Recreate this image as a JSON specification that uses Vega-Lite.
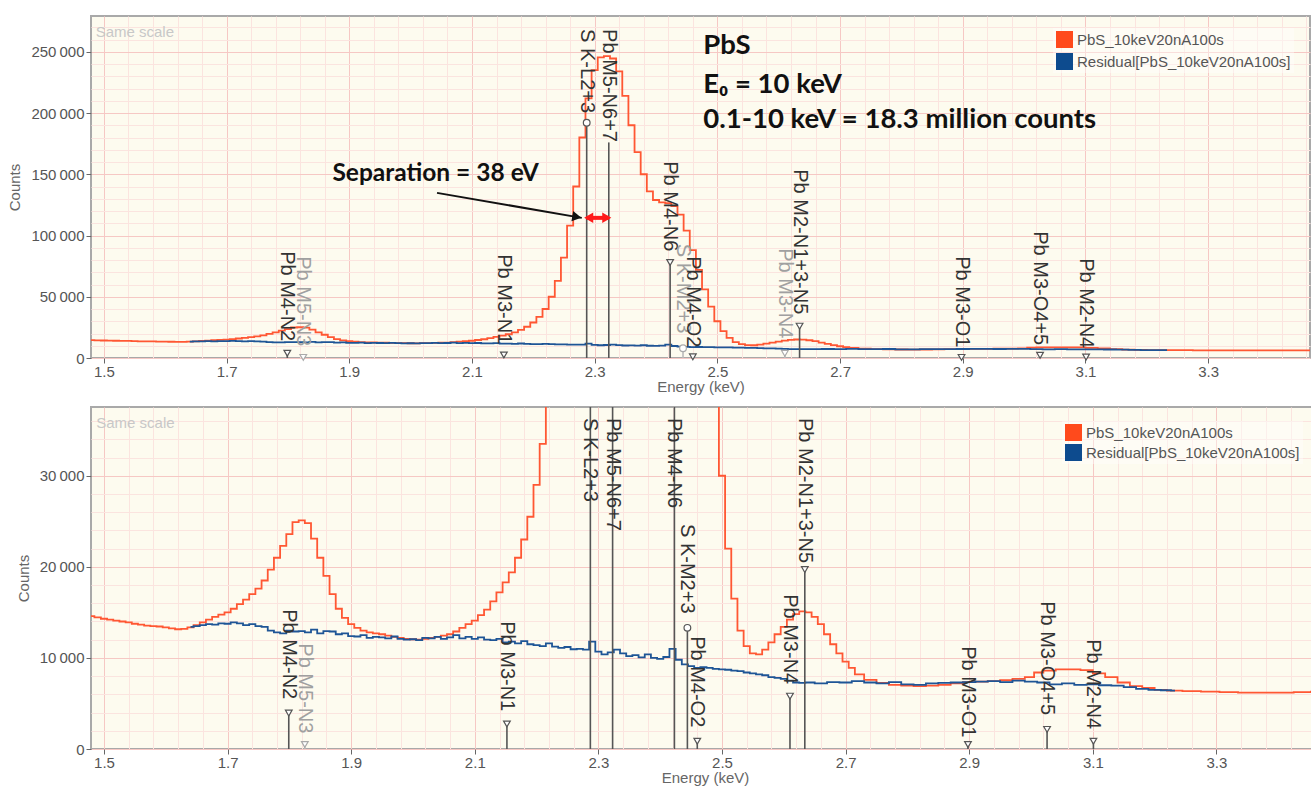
{
  "$schema": "https://vega.github.io/schema/vega-lite/v6.json",
  "background": "white",
  "padding": {"left": 6, "top": 15, "right": 0, "bottom": 0},
  "spacing": 11,
  "resolve": {"scale": {"color": "independent", "shape": "independent"}, "legend": {"color": "independent"}},
  "config": {
    "font": "Liberation Sans",
    "view": {"fill": "#fdfbef", "stroke": "#a9a9a9", "strokeWidth": 2},
    "axis": {"labelFont": "Liberation Sans", "titleFont": "Liberation Sans", "labelFontSize": 15, "titleFontSize": 15, "labelColor": "#555555", "titleColor": "#666666", "titleFontWeight": "normal", "domain": false, "tickColor": "#666666", "tickSize": 5, "labelFlush": false, "labelOverlap": false, "gridWidth": 1, "tickCount": 500}
  },
  "datasets": {
    "spectra": [
      {"series": "PbS_10keV20nA100s", "energy": 1.479, "counts": 14600},
      {"series": "PbS_10keV20nA100s", "energy": 1.49, "counts": 14450},
      {"series": "PbS_10keV20nA100s", "energy": 1.50, "counts": 14300},
      {"series": "PbS_10keV20nA100s", "energy": 1.51, "counts": 14200},
      {"series": "PbS_10keV20nA100s", "energy": 1.52, "counts": 14100},
      {"series": "PbS_10keV20nA100s", "energy": 1.53, "counts": 14000},
      {"series": "PbS_10keV20nA100s", "energy": 1.54, "counts": 13900},
      {"series": "PbS_10keV20nA100s", "energy": 1.55, "counts": 13750},
      {"series": "PbS_10keV20nA100s", "energy": 1.56, "counts": 13650},
      {"series": "PbS_10keV20nA100s", "energy": 1.57, "counts": 13550},
      {"series": "PbS_10keV20nA100s", "energy": 1.58, "counts": 13500},
      {"series": "PbS_10keV20nA100s", "energy": 1.59, "counts": 13450},
      {"series": "PbS_10keV20nA100s", "energy": 1.60, "counts": 13350},
      {"series": "PbS_10keV20nA100s", "energy": 1.61, "counts": 13250},
      {"series": "PbS_10keV20nA100s", "energy": 1.62, "counts": 13150},
      {"series": "PbS_10keV20nA100s", "energy": 1.63, "counts": 13200},
      {"series": "PbS_10keV20nA100s", "energy": 1.64, "counts": 13350},
      {"series": "PbS_10keV20nA100s", "energy": 1.65, "counts": 13600},
      {"series": "PbS_10keV20nA100s", "energy": 1.66, "counts": 13900},
      {"series": "PbS_10keV20nA100s", "energy": 1.67, "counts": 14200},
      {"series": "PbS_10keV20nA100s", "energy": 1.68, "counts": 14500},
      {"series": "PbS_10keV20nA100s", "energy": 1.69, "counts": 14750},
      {"series": "PbS_10keV20nA100s", "energy": 1.70, "counts": 15000},
      {"series": "PbS_10keV20nA100s", "energy": 1.71, "counts": 15400},
      {"series": "PbS_10keV20nA100s", "energy": 1.72, "counts": 15900},
      {"series": "PbS_10keV20nA100s", "energy": 1.73, "counts": 16400},
      {"series": "PbS_10keV20nA100s", "energy": 1.74, "counts": 17000},
      {"series": "PbS_10keV20nA100s", "energy": 1.75, "counts": 17600},
      {"series": "PbS_10keV20nA100s", "energy": 1.76, "counts": 18500},
      {"series": "PbS_10keV20nA100s", "energy": 1.77, "counts": 19700},
      {"series": "PbS_10keV20nA100s", "energy": 1.78, "counts": 21000},
      {"series": "PbS_10keV20nA100s", "energy": 1.79, "counts": 22300},
      {"series": "PbS_10keV20nA100s", "energy": 1.80, "counts": 23600},
      {"series": "PbS_10keV20nA100s", "energy": 1.81, "counts": 24900},
      {"series": "PbS_10keV20nA100s", "energy": 1.82, "counts": 25100},
      {"series": "PbS_10keV20nA100s", "energy": 1.83, "counts": 24800},
      {"series": "PbS_10keV20nA100s", "energy": 1.84, "counts": 23100},
      {"series": "PbS_10keV20nA100s", "energy": 1.85, "counts": 21000},
      {"series": "PbS_10keV20nA100s", "energy": 1.86, "counts": 19000},
      {"series": "PbS_10keV20nA100s", "energy": 1.87, "counts": 17000},
      {"series": "PbS_10keV20nA100s", "energy": 1.88, "counts": 15400},
      {"series": "PbS_10keV20nA100s", "energy": 1.89, "counts": 14400},
      {"series": "PbS_10keV20nA100s", "energy": 1.90, "counts": 13700},
      {"series": "PbS_10keV20nA100s", "energy": 1.91, "counts": 13300},
      {"series": "PbS_10keV20nA100s", "energy": 1.92, "counts": 13000},
      {"series": "PbS_10keV20nA100s", "energy": 1.93, "counts": 12800},
      {"series": "PbS_10keV20nA100s", "energy": 1.94, "counts": 12700},
      {"series": "PbS_10keV20nA100s", "energy": 1.95, "counts": 12600},
      {"series": "PbS_10keV20nA100s", "energy": 1.96, "counts": 12450},
      {"series": "PbS_10keV20nA100s", "energy": 1.97, "counts": 12300},
      {"series": "PbS_10keV20nA100s", "energy": 1.98, "counts": 12200},
      {"series": "PbS_10keV20nA100s", "energy": 1.99, "counts": 12100},
      {"series": "PbS_10keV20nA100s", "energy": 2.00, "counts": 12050},
      {"series": "PbS_10keV20nA100s", "energy": 2.01, "counts": 12000},
      {"series": "PbS_10keV20nA100s", "energy": 2.02, "counts": 12100},
      {"series": "PbS_10keV20nA100s", "energy": 2.03, "counts": 12200},
      {"series": "PbS_10keV20nA100s", "energy": 2.04, "counts": 12300},
      {"series": "PbS_10keV20nA100s", "energy": 2.05, "counts": 12450},
      {"series": "PbS_10keV20nA100s", "energy": 2.06, "counts": 12600},
      {"series": "PbS_10keV20nA100s", "energy": 2.07, "counts": 12900},
      {"series": "PbS_10keV20nA100s", "energy": 2.08, "counts": 13300},
      {"series": "PbS_10keV20nA100s", "energy": 2.09, "counts": 13700},
      {"series": "PbS_10keV20nA100s", "energy": 2.10, "counts": 14100},
      {"series": "PbS_10keV20nA100s", "energy": 2.11, "counts": 14700},
      {"series": "PbS_10keV20nA100s", "energy": 2.12, "counts": 15300},
      {"series": "PbS_10keV20nA100s", "energy": 2.13, "counts": 16200},
      {"series": "PbS_10keV20nA100s", "energy": 2.14, "counts": 17200},
      {"series": "PbS_10keV20nA100s", "energy": 2.15, "counts": 18300},
      {"series": "PbS_10keV20nA100s", "energy": 2.16, "counts": 19400},
      {"series": "PbS_10keV20nA100s", "energy": 2.17, "counts": 21000},
      {"series": "PbS_10keV20nA100s", "energy": 2.18, "counts": 23000},
      {"series": "PbS_10keV20nA100s", "energy": 2.19, "counts": 25500},
      {"series": "PbS_10keV20nA100s", "energy": 2.20, "counts": 29000},
      {"series": "PbS_10keV20nA100s", "energy": 2.21, "counts": 33500},
      {"series": "PbS_10keV20nA100s", "energy": 2.22, "counts": 40000},
      {"series": "PbS_10keV20nA100s", "energy": 2.23, "counts": 50000},
      {"series": "PbS_10keV20nA100s", "energy": 2.24, "counts": 63000},
      {"series": "PbS_10keV20nA100s", "energy": 2.25, "counts": 82000},
      {"series": "PbS_10keV20nA100s", "energy": 2.26, "counts": 108000},
      {"series": "PbS_10keV20nA100s", "energy": 2.27, "counts": 140000},
      {"series": "PbS_10keV20nA100s", "energy": 2.28, "counts": 180000},
      {"series": "PbS_10keV20nA100s", "energy": 2.29, "counts": 212000},
      {"series": "PbS_10keV20nA100s", "energy": 2.30, "counts": 235000},
      {"series": "PbS_10keV20nA100s", "energy": 2.31, "counts": 245500},
      {"series": "PbS_10keV20nA100s", "energy": 2.32, "counts": 246500},
      {"series": "PbS_10keV20nA100s", "energy": 2.33, "counts": 244500},
      {"series": "PbS_10keV20nA100s", "energy": 2.34, "counts": 234000},
      {"series": "PbS_10keV20nA100s", "energy": 2.35, "counts": 214000},
      {"series": "PbS_10keV20nA100s", "energy": 2.36, "counts": 190000},
      {"series": "PbS_10keV20nA100s", "energy": 2.37, "counts": 168000},
      {"series": "PbS_10keV20nA100s", "energy": 2.38, "counts": 150000},
      {"series": "PbS_10keV20nA100s", "energy": 2.39, "counts": 136000},
      {"series": "PbS_10keV20nA100s", "energy": 2.40, "counts": 129000},
      {"series": "PbS_10keV20nA100s", "energy": 2.41, "counts": 127000},
      {"series": "PbS_10keV20nA100s", "energy": 2.42, "counts": 126500},
      {"series": "PbS_10keV20nA100s", "energy": 2.43, "counts": 124000},
      {"series": "PbS_10keV20nA100s", "energy": 2.44, "counts": 117000},
      {"series": "PbS_10keV20nA100s", "energy": 2.45, "counts": 104000},
      {"series": "PbS_10keV20nA100s", "energy": 2.46, "counts": 88000},
      {"series": "PbS_10keV20nA100s", "energy": 2.47, "counts": 72000},
      {"series": "PbS_10keV20nA100s", "energy": 2.48, "counts": 56000},
      {"series": "PbS_10keV20nA100s", "energy": 2.49, "counts": 42000},
      {"series": "PbS_10keV20nA100s", "energy": 2.50, "counts": 30000},
      {"series": "PbS_10keV20nA100s", "energy": 2.51, "counts": 22000},
      {"series": "PbS_10keV20nA100s", "energy": 2.52, "counts": 16500},
      {"series": "PbS_10keV20nA100s", "energy": 2.53, "counts": 13000},
      {"series": "PbS_10keV20nA100s", "energy": 2.54, "counts": 11300},
      {"series": "PbS_10keV20nA100s", "energy": 2.55, "counts": 10500},
      {"series": "PbS_10keV20nA100s", "energy": 2.56, "counts": 10400},
      {"series": "PbS_10keV20nA100s", "energy": 2.57, "counts": 10900},
      {"series": "PbS_10keV20nA100s", "energy": 2.58, "counts": 11700},
      {"series": "PbS_10keV20nA100s", "energy": 2.59, "counts": 12600},
      {"series": "PbS_10keV20nA100s", "energy": 2.60, "counts": 13400},
      {"series": "PbS_10keV20nA100s", "energy": 2.61, "counts": 14200},
      {"series": "PbS_10keV20nA100s", "energy": 2.62, "counts": 14800},
      {"series": "PbS_10keV20nA100s", "energy": 2.63, "counts": 15100},
      {"series": "PbS_10keV20nA100s", "energy": 2.64, "counts": 15000},
      {"series": "PbS_10keV20nA100s", "energy": 2.65, "counts": 14500},
      {"series": "PbS_10keV20nA100s", "energy": 2.66, "counts": 13700},
      {"series": "PbS_10keV20nA100s", "energy": 2.67, "counts": 12600},
      {"series": "PbS_10keV20nA100s", "energy": 2.68, "counts": 11500},
      {"series": "PbS_10keV20nA100s", "energy": 2.69, "counts": 10500},
      {"series": "PbS_10keV20nA100s", "energy": 2.70, "counts": 9600},
      {"series": "PbS_10keV20nA100s", "energy": 2.71, "counts": 8900},
      {"series": "PbS_10keV20nA100s", "energy": 2.72, "counts": 8200},
      {"series": "PbS_10keV20nA100s", "energy": 2.74, "counts": 7600},
      {"series": "PbS_10keV20nA100s", "energy": 2.76, "counts": 7250},
      {"series": "PbS_10keV20nA100s", "energy": 2.78, "counts": 7050},
      {"series": "PbS_10keV20nA100s", "energy": 2.80, "counts": 6950},
      {"series": "PbS_10keV20nA100s", "energy": 2.82, "counts": 6900},
      {"series": "PbS_10keV20nA100s", "energy": 2.84, "counts": 6950},
      {"series": "PbS_10keV20nA100s", "energy": 2.86, "counts": 7050},
      {"series": "PbS_10keV20nA100s", "energy": 2.88, "counts": 7200},
      {"series": "PbS_10keV20nA100s", "energy": 2.90, "counts": 7350},
      {"series": "PbS_10keV20nA100s", "energy": 2.92, "counts": 7400},
      {"series": "PbS_10keV20nA100s", "energy": 2.94, "counts": 7450},
      {"series": "PbS_10keV20nA100s", "energy": 2.96, "counts": 7550},
      {"series": "PbS_10keV20nA100s", "energy": 2.98, "counts": 7700},
      {"series": "PbS_10keV20nA100s", "energy": 3.00, "counts": 7900},
      {"series": "PbS_10keV20nA100s", "energy": 3.01, "counts": 8400},
      {"series": "PbS_10keV20nA100s", "energy": 3.03, "counts": 8600},
      {"series": "PbS_10keV20nA100s", "energy": 3.05, "counts": 8750},
      {"series": "PbS_10keV20nA100s", "energy": 3.07, "counts": 8750},
      {"series": "PbS_10keV20nA100s", "energy": 3.09, "counts": 8650},
      {"series": "PbS_10keV20nA100s", "energy": 3.11, "counts": 8300},
      {"series": "PbS_10keV20nA100s", "energy": 3.13, "counts": 7900},
      {"series": "PbS_10keV20nA100s", "energy": 3.15, "counts": 7300},
      {"series": "PbS_10keV20nA100s", "energy": 3.17, "counts": 6900},
      {"series": "PbS_10keV20nA100s", "energy": 3.19, "counts": 6700},
      {"series": "PbS_10keV20nA100s", "energy": 3.21, "counts": 6500},
      {"series": "PbS_10keV20nA100s", "energy": 3.23, "counts": 6400},
      {"series": "PbS_10keV20nA100s", "energy": 3.26, "counts": 6350},
      {"series": "PbS_10keV20nA100s", "energy": 3.29, "counts": 6300},
      {"series": "PbS_10keV20nA100s", "energy": 3.32, "counts": 6250},
      {"series": "PbS_10keV20nA100s", "energy": 3.35, "counts": 6200},
      {"series": "PbS_10keV20nA100s", "energy": 3.38, "counts": 6180},
      {"series": "PbS_10keV20nA100s", "energy": 3.41, "counts": 6200},
      {"series": "PbS_10keV20nA100s", "energy": 3.44, "counts": 6250},
      {"series": "PbS_10keV20nA100s", "energy": 3.466, "counts": 6300},
      {"series": "Residual[PbS_10keV20nA100s]", "energy": 1.64, "counts": 13400},
      {"series": "Residual[PbS_10keV20nA100s]", "energy": 1.65, "counts": 13500},
      {"series": "Residual[PbS_10keV20nA100s]", "energy": 1.66, "counts": 13600},
      {"series": "Residual[PbS_10keV20nA100s]", "energy": 1.67, "counts": 13700},
      {"series": "Residual[PbS_10keV20nA100s]", "energy": 1.68, "counts": 13650},
      {"series": "Residual[PbS_10keV20nA100s]", "energy": 1.69, "counts": 13800},
      {"series": "Residual[PbS_10keV20nA100s]", "energy": 1.70, "counts": 13750},
      {"series": "Residual[PbS_10keV20nA100s]", "energy": 1.71, "counts": 13900},
      {"series": "Residual[PbS_10keV20nA100s]", "energy": 1.72, "counts": 13800},
      {"series": "Residual[PbS_10keV20nA100s]", "energy": 1.73, "counts": 13600},
      {"series": "Residual[PbS_10keV20nA100s]", "energy": 1.74, "counts": 13700},
      {"series": "Residual[PbS_10keV20nA100s]", "energy": 1.75, "counts": 13500},
      {"series": "Residual[PbS_10keV20nA100s]", "energy": 1.76, "counts": 13400},
      {"series": "Residual[PbS_10keV20nA100s]", "energy": 1.77, "counts": 13000},
      {"series": "Residual[PbS_10keV20nA100s]", "energy": 1.78, "counts": 12800},
      {"series": "Residual[PbS_10keV20nA100s]", "energy": 1.79, "counts": 12700},
      {"series": "Residual[PbS_10keV20nA100s]", "energy": 1.80, "counts": 13000},
      {"series": "Residual[PbS_10keV20nA100s]", "energy": 1.81, "counts": 12900},
      {"series": "Residual[PbS_10keV20nA100s]", "energy": 1.82, "counts": 12950},
      {"series": "Residual[PbS_10keV20nA100s]", "energy": 1.83, "counts": 12800},
      {"series": "Residual[PbS_10keV20nA100s]", "energy": 1.84, "counts": 13100},
      {"series": "Residual[PbS_10keV20nA100s]", "energy": 1.85, "counts": 12700},
      {"series": "Residual[PbS_10keV20nA100s]", "energy": 1.86, "counts": 12950},
      {"series": "Residual[PbS_10keV20nA100s]", "energy": 1.87, "counts": 12900},
      {"series": "Residual[PbS_10keV20nA100s]", "energy": 1.88, "counts": 12600},
      {"series": "Residual[PbS_10keV20nA100s]", "energy": 1.89, "counts": 12700},
      {"series": "Residual[PbS_10keV20nA100s]", "energy": 1.90, "counts": 12400},
      {"series": "Residual[PbS_10keV20nA100s]", "energy": 1.91, "counts": 12350},
      {"series": "Residual[PbS_10keV20nA100s]", "energy": 1.92, "counts": 12500},
      {"series": "Residual[PbS_10keV20nA100s]", "energy": 1.93, "counts": 12200},
      {"series": "Residual[PbS_10keV20nA100s]", "energy": 1.94, "counts": 12300},
      {"series": "Residual[PbS_10keV20nA100s]", "energy": 1.95, "counts": 12250},
      {"series": "Residual[PbS_10keV20nA100s]", "energy": 1.96, "counts": 12150},
      {"series": "Residual[PbS_10keV20nA100s]", "energy": 1.97, "counts": 12350},
      {"series": "Residual[PbS_10keV20nA100s]", "energy": 1.98, "counts": 12100},
      {"series": "Residual[PbS_10keV20nA100s]", "energy": 1.99, "counts": 12000},
      {"series": "Residual[PbS_10keV20nA100s]", "energy": 2.00, "counts": 12050},
      {"series": "Residual[PbS_10keV20nA100s]", "energy": 2.01, "counts": 11950},
      {"series": "Residual[PbS_10keV20nA100s]", "energy": 2.02, "counts": 12200},
      {"series": "Residual[PbS_10keV20nA100s]", "energy": 2.03, "counts": 12150},
      {"series": "Residual[PbS_10keV20nA100s]", "energy": 2.04, "counts": 12300},
      {"series": "Residual[PbS_10keV20nA100s]", "energy": 2.05, "counts": 12100},
      {"series": "Residual[PbS_10keV20nA100s]", "energy": 2.06, "counts": 12250},
      {"series": "Residual[PbS_10keV20nA100s]", "energy": 2.07, "counts": 12500},
      {"series": "Residual[PbS_10keV20nA100s]", "energy": 2.08, "counts": 12150},
      {"series": "Residual[PbS_10keV20nA100s]", "energy": 2.09, "counts": 12300},
      {"series": "Residual[PbS_10keV20nA100s]", "energy": 2.10, "counts": 12100},
      {"series": "Residual[PbS_10keV20nA100s]", "energy": 2.11, "counts": 12250},
      {"series": "Residual[PbS_10keV20nA100s]", "energy": 2.12, "counts": 12000},
      {"series": "Residual[PbS_10keV20nA100s]", "energy": 2.13, "counts": 11950},
      {"series": "Residual[PbS_10keV20nA100s]", "energy": 2.14, "counts": 12100},
      {"series": "Residual[PbS_10keV20nA100s]", "energy": 2.15, "counts": 11700},
      {"series": "Residual[PbS_10keV20nA100s]", "energy": 2.16, "counts": 11800},
      {"series": "Residual[PbS_10keV20nA100s]", "energy": 2.17, "counts": 11600},
      {"series": "Residual[PbS_10keV20nA100s]", "energy": 2.18, "counts": 11850},
      {"series": "Residual[PbS_10keV20nA100s]", "energy": 2.19, "counts": 11500},
      {"series": "Residual[PbS_10keV20nA100s]", "energy": 2.20, "counts": 11400},
      {"series": "Residual[PbS_10keV20nA100s]", "energy": 2.21, "counts": 11300},
      {"series": "Residual[PbS_10keV20nA100s]", "energy": 2.22, "counts": 11600},
      {"series": "Residual[PbS_10keV20nA100s]", "energy": 2.23, "counts": 11250},
      {"series": "Residual[PbS_10keV20nA100s]", "energy": 2.24, "counts": 11100},
      {"series": "Residual[PbS_10keV20nA100s]", "energy": 2.25, "counts": 11200},
      {"series": "Residual[PbS_10keV20nA100s]", "energy": 2.26, "counts": 10950},
      {"series": "Residual[PbS_10keV20nA100s]", "energy": 2.27, "counts": 11000},
      {"series": "Residual[PbS_10keV20nA100s]", "energy": 2.28, "counts": 10900},
      {"series": "Residual[PbS_10keV20nA100s]", "energy": 2.29, "counts": 11800},
      {"series": "Residual[PbS_10keV20nA100s]", "energy": 2.30, "counts": 10700},
      {"series": "Residual[PbS_10keV20nA100s]", "energy": 2.31, "counts": 10400},
      {"series": "Residual[PbS_10keV20nA100s]", "energy": 2.32, "counts": 10600},
      {"series": "Residual[PbS_10keV20nA100s]", "energy": 2.33, "counts": 10900},
      {"series": "Residual[PbS_10keV20nA100s]", "energy": 2.34, "counts": 10500},
      {"series": "Residual[PbS_10keV20nA100s]", "energy": 2.35, "counts": 10200},
      {"series": "Residual[PbS_10keV20nA100s]", "energy": 2.36, "counts": 10300},
      {"series": "Residual[PbS_10keV20nA100s]", "energy": 2.37, "counts": 10050},
      {"series": "Residual[PbS_10keV20nA100s]", "energy": 2.38, "counts": 10400},
      {"series": "Residual[PbS_10keV20nA100s]", "energy": 2.39, "counts": 10000},
      {"series": "Residual[PbS_10keV20nA100s]", "energy": 2.40, "counts": 9900},
      {"series": "Residual[PbS_10keV20nA100s]", "energy": 2.41, "counts": 10100},
      {"series": "Residual[PbS_10keV20nA100s]", "energy": 2.42, "counts": 11000},
      {"series": "Residual[PbS_10keV20nA100s]", "energy": 2.43, "counts": 9800},
      {"series": "Residual[PbS_10keV20nA100s]", "energy": 2.44, "counts": 9300},
      {"series": "Residual[PbS_10keV20nA100s]", "energy": 2.45, "counts": 9100},
      {"series": "Residual[PbS_10keV20nA100s]", "energy": 2.46, "counts": 8900},
      {"series": "Residual[PbS_10keV20nA100s]", "energy": 2.47, "counts": 9000},
      {"series": "Residual[PbS_10keV20nA100s]", "energy": 2.48, "counts": 8900},
      {"series": "Residual[PbS_10keV20nA100s]", "energy": 2.49, "counts": 8800},
      {"series": "Residual[PbS_10keV20nA100s]", "energy": 2.50, "counts": 8750},
      {"series": "Residual[PbS_10keV20nA100s]", "energy": 2.51, "counts": 8700},
      {"series": "Residual[PbS_10keV20nA100s]", "energy": 2.52, "counts": 8600},
      {"series": "Residual[PbS_10keV20nA100s]", "energy": 2.53, "counts": 8550},
      {"series": "Residual[PbS_10keV20nA100s]", "energy": 2.54, "counts": 8400},
      {"series": "Residual[PbS_10keV20nA100s]", "energy": 2.55, "counts": 8300},
      {"series": "Residual[PbS_10keV20nA100s]", "energy": 2.56, "counts": 8200},
      {"series": "Residual[PbS_10keV20nA100s]", "energy": 2.57, "counts": 8100},
      {"series": "Residual[PbS_10keV20nA100s]", "energy": 2.58, "counts": 7900},
      {"series": "Residual[PbS_10keV20nA100s]", "energy": 2.59, "counts": 7800},
      {"series": "Residual[PbS_10keV20nA100s]", "energy": 2.60, "counts": 7700},
      {"series": "Residual[PbS_10keV20nA100s]", "energy": 2.61, "counts": 7500},
      {"series": "Residual[PbS_10keV20nA100s]", "energy": 2.62, "counts": 7300},
      {"series": "Residual[PbS_10keV20nA100s]", "energy": 2.63, "counts": 7250},
      {"series": "Residual[PbS_10keV20nA100s]", "energy": 2.64, "counts": 7300},
      {"series": "Residual[PbS_10keV20nA100s]", "energy": 2.66, "counts": 7200},
      {"series": "Residual[PbS_10keV20nA100s]", "energy": 2.68, "counts": 7350},
      {"series": "Residual[PbS_10keV20nA100s]", "energy": 2.70, "counts": 7300},
      {"series": "Residual[PbS_10keV20nA100s]", "energy": 2.72, "counts": 7450},
      {"series": "Residual[PbS_10keV20nA100s]", "energy": 2.74, "counts": 7300},
      {"series": "Residual[PbS_10keV20nA100s]", "energy": 2.76, "counts": 7200},
      {"series": "Residual[PbS_10keV20nA100s]", "energy": 2.78, "counts": 7350},
      {"series": "Residual[PbS_10keV20nA100s]", "energy": 2.80, "counts": 7100},
      {"series": "Residual[PbS_10keV20nA100s]", "energy": 2.82, "counts": 7050},
      {"series": "Residual[PbS_10keV20nA100s]", "energy": 2.84, "counts": 7200},
      {"series": "Residual[PbS_10keV20nA100s]", "energy": 2.86, "counts": 7250},
      {"series": "Residual[PbS_10keV20nA100s]", "energy": 2.88, "counts": 7300},
      {"series": "Residual[PbS_10keV20nA100s]", "energy": 2.90, "counts": 7350},
      {"series": "Residual[PbS_10keV20nA100s]", "energy": 2.92, "counts": 7400},
      {"series": "Residual[PbS_10keV20nA100s]", "energy": 2.94, "counts": 7450},
      {"series": "Residual[PbS_10keV20nA100s]", "energy": 2.96, "counts": 7350},
      {"series": "Residual[PbS_10keV20nA100s]", "energy": 2.98, "counts": 7500},
      {"series": "Residual[PbS_10keV20nA100s]", "energy": 3.00, "counts": 7400},
      {"series": "Residual[PbS_10keV20nA100s]", "energy": 3.02, "counts": 7300},
      {"series": "Residual[PbS_10keV20nA100s]", "energy": 3.04, "counts": 7100},
      {"series": "Residual[PbS_10keV20nA100s]", "energy": 3.06, "counts": 7200},
      {"series": "Residual[PbS_10keV20nA100s]", "energy": 3.08, "counts": 7050},
      {"series": "Residual[PbS_10keV20nA100s]", "energy": 3.10, "counts": 7100},
      {"series": "Residual[PbS_10keV20nA100s]", "energy": 3.12, "counts": 7000},
      {"series": "Residual[PbS_10keV20nA100s]", "energy": 3.14, "counts": 6950},
      {"series": "Residual[PbS_10keV20nA100s]", "energy": 3.16, "counts": 6800},
      {"series": "Residual[PbS_10keV20nA100s]", "energy": 3.18, "counts": 6600},
      {"series": "Residual[PbS_10keV20nA100s]", "energy": 3.20, "counts": 6500},
      {"series": "Residual[PbS_10keV20nA100s]", "energy": 3.22, "counts": 6450},
      {"series": "Residual[PbS_10keV20nA100s]", "energy": 3.233, "counts": 6400}
    ],
    "lines": [
      {"name": "Pb M4-N2", "energy": 1.799, "marker": "tri", "h_top": 3900, "h_bot": 3950, "lab_top": 87200, "lab_bot": 15350, "overlap_top": false, "overlap_bot": false},
      {"name": "Pb M5-N3", "energy": 1.825, "marker": "tri", "h_top": 500, "h_bot": 500, "lab_top": 83100, "lab_bot": 11600, "overlap_top": true, "overlap_bot": true},
      {"name": "Pb M3-N1", "energy": 2.152, "marker": "tri", "h_top": 2500, "h_bot": 2750, "lab_top": 84700, "lab_bot": 14030, "overlap_top": false, "overlap_bot": false},
      {"name": "S K-L2+3", "energy": 2.287, "marker": "circ", "h_top": 192000, "h_bot": 192000, "lab_top": 268500, "lab_bot": 36340, "overlap_top": false, "overlap_bot": false},
      {"name": "Pb M5-N6+7", "energy": 2.323, "marker": "none", "h_top": 176000, "h_bot": 176000, "lab_top": 268500, "lab_bot": 36340, "overlap_top": false, "overlap_bot": false},
      {"name": "Pb M4-N6", "energy": 2.423, "marker": "tri", "h_top": 78000, "h_bot": 78000, "lab_top": 160600, "lab_bot": 36340, "overlap_top": false, "overlap_bot": false},
      {"name": "S K-M2+3", "energy": 2.444, "marker": "circ", "h_top": 8000, "h_bot": 13300, "lab_top": 93200, "lab_bot": 24700, "overlap_top": true, "overlap_bot": false},
      {"name": "Pb M4-O2", "energy": 2.460, "marker": "tri", "h_top": 1000, "h_bot": 850, "lab_top": 83100, "lab_bot": 12390, "overlap_top": false, "overlap_bot": false},
      {"name": "Pb M3-N4", "energy": 2.610, "marker": "tri", "h_top": 3800, "h_bot": 5800, "lab_top": 89600, "lab_bot": 17000, "overlap_top": true, "overlap_bot": false},
      {"name": "Pb M2-N1+3-N5", "energy": 2.634, "marker": "tri", "h_top": 26000, "h_bot": 19700, "lab_top": 154100, "lab_bot": 36340, "overlap_top": false, "overlap_bot": false},
      {"name": "Pb M3-O1", "energy": 2.898, "marker": "tri", "h_top": 500, "h_bot": 500, "lab_top": 83100, "lab_bot": 11290, "overlap_top": false, "overlap_bot": false},
      {"name": "Pb M3-O4+5", "energy": 3.026, "marker": "tri", "h_top": 2200, "h_bot": 2150, "lab_top": 103500, "lab_bot": 16230, "overlap_top": false, "overlap_bot": false},
      {"name": "Pb M2-N4", "energy": 3.101, "marker": "tri", "h_top": 800, "h_bot": 850, "lab_top": 81500, "lab_bot": 12060, "overlap_top": false, "overlap_bot": false}
    ]
  },
  "vconcat": [
    {"hconcat": [
    {
      "width": 1219,
      "height": 342,
      "layer": [
        {
          "data": {"name": "spectra"},
          "mark": {"type": "line", "interpolate": "step", "strokeWidth": 1.8},
          "encoding": {
            "x": {"field": "energy", "type": "quantitative", "scale": {"domain": [1.479, 3.466], "nice": false, "zero": false},
              "axis": {"title": "Energy (keV)", "titlePadding": 0, "labelPadding": 1, "labelOverlap": false, "tickCount": 500,
                "values": [1.5,1.54,1.58,1.62,1.66,1.7,1.74,1.78,1.82,1.86,1.9,1.94,1.98,2.02,2.06,2.1,2.14,2.18,2.22,2.26,2.3,2.34,2.38,2.42,2.46,2.5,2.54,2.58,2.62,2.66,2.7,2.74,2.78,2.82,2.86,2.9,2.94,2.98,3.02,3.06,3.1,3.14,3.18,3.22,3.26,3.3,3.34,3.38,3.42,3.46],
                "labelExpr": "abs(datum.value*5-0.5-round(datum.value*5-0.5))<0.01 ? format(datum.value,'.1f') : ''",
                "gridColor": {"condition": {"test": "abs(datum.value*5-0.5-round(datum.value*5-0.5))<0.01", "value": "#f6c8c4"}, "value": "#fbe4df"},
                "tickOpacity": {"condition": {"test": "abs(datum.value*5-0.5-round(datum.value*5-0.5))<0.01", "value": 1}, "value": 0}}},
            "y": {"field": "counts", "type": "quantitative", "scale": {"domain": [0, 279200], "nice": false},
              "axis": {"title": "Counts", "titlePadding": 8, "labelPadding": 2, "labelOverlap": false, "tickCount": 500,
                "values": [0,10000,20000,30000,40000,50000,60000,70000,80000,90000,100000,110000,120000,130000,140000,150000,160000,170000,180000,190000,200000,210000,220000,230000,240000,250000,260000,270000],
                "labelExpr": "datum.value % 50000 === 0 ? replace(format(datum.value, ',d'), ',', '\u2009') : ''",
                "gridColor": {"condition": {"test": "datum.value % 50000 === 0", "value": "#f6c8c4"}, "value": "#fbe4df"},
                "tickOpacity": {"condition": {"test": "datum.value % 50000 === 0", "value": 1}, "value": 0}}},
            "color": {"field": "series", "type": "nominal",
              "scale": {"domain": ["PbS_10keV20nA100s", "Residual[PbS_10keV20nA100s]"], "range": ["#ff5733", "#1e5596"]},
              "legend": {"orient": "none", "legendX": 962, "legendY": 12, "title": null, "symbolType": "square", "symbolSize": 289, "symbolStrokeWidth": 0, "labelFontSize": 15, "labelFont": "Liberation Sans", "labelColor": "#555555", "labelOffset": 4, "rowPadding": 5, "padding": 3, "labelLimit": 400, "fillColor": "rgba(255,255,255,0.4)",
                "encode": {"symbols": {"update": {"fill": {"signal": "datum.value === 'PbS_10keV20nA100s' ? '#ff4a1c' : '#0d4b8e'"}, "fillOpacity": {"value": 1}, "opacity": {"value": 1}}}}}}
          }
        },
        {
          "data": {"name": "lines"},
          "mark": {"type": "rule", "strokeWidth": 1.6},
          "encoding": {
            "x": {"field": "energy", "type": "quantitative"},
            "y": {"field": "h_top", "type": "quantitative"},
            "y2": {"datum": 0},
            "color": {"condition": {"test": "datum.overlap_top", "value": "#bbbbbb"}, "value": "#555555"}
          }
        },
        {
          "data": {"name": "lines"},
          "transform": [{"filter": "datum.marker !== 'none'"}],
          "mark": {"type": "point", "filled": false, "fill": "white", "fillOpacity": 1, "strokeWidth": 1.2, "size": 45},
          "encoding": {
            "x": {"field": "energy", "type": "quantitative"},
            "y": {"field": "h_top", "type": "quantitative"},
            "shape": {"field": "marker", "type": "nominal", "scale": {"domain": ["tri", "circ"], "range": ["triangle-down", "circle"]}, "legend": null},
            "stroke": {"condition": {"test": "datum.overlap_top", "value": "#aaaaaa"}, "value": "#555555"}
          }
        },
        {
          "data": {"name": "lines"},
          "mark": {"type": "text", "angle": 90, "align": "left", "baseline": "middle", "fontSize": 20, "font": "Liberation Sans"},
          "encoding": {
            "x": {"field": "energy", "type": "quantitative"},
            "y": {"field": "lab_top", "type": "quantitative"},
            "text": {"field": "name"},
            "color": {"condition": {"test": "datum.overlap_top", "value": "#a0a0a0"}, "value": "#333333"}
          }
        },
        {
          "data": {"values": [{"note": "Same scale", "energy": 1.4866, "counts": 266000}]},
          "mark": {"type": "text", "align": "left", "baseline": "middle", "fontSize": 15, "color": "#c8c8c8"},
          "encoding": {"x": {"field": "energy", "type": "quantitative"}, "y": {"field": "counts", "type": "quantitative"}, "text": {"field": "note"}}
        },
        {
          "data": {"values": [
            {"note": "PbS", "energy": 2.477, "counts": 248000},
            {"note": "E\u2080 = 10 keV", "energy": 2.477, "counts": 216200},
            {"note": "0.1-10 keV = 18.3 million counts", "energy": 2.477, "counts": 187600}
          ]},
          "mark": {"type": "text", "align": "left", "baseline": "alphabetic", "fontSize": 27.5, "font": "Lato", "fontWeight": "bold", "color": "#111111"},
          "encoding": {"x": {"field": "energy", "type": "quantitative"}, "y": {"field": "counts", "type": "quantitative"}, "text": {"field": "note"}}
        },
        {
          "data": {"values": [{"note": "Separation = 38 eV", "energy": 1.8725, "counts": 144400}]},
          "mark": {"type": "text", "align": "left", "baseline": "alphabetic", "fontSize": 24.5, "font": "Lato", "fontWeight": "bold", "color": "#111111"},
          "encoding": {"x": {"field": "energy", "type": "quantitative"}, "y": {"field": "counts", "type": "quantitative"}, "text": {"field": "note"}}
        },
        {
          "data": {"values": [{"from_e": 2.043, "from_c": 134800, "to_e": 2.279, "to_c": 114400}]},
          "mark": {"type": "rule", "strokeWidth": 2, "color": "#111111"},
          "encoding": {"x": {"field": "from_e", "type": "quantitative"}, "y": {"field": "from_c", "type": "quantitative"}, "x2": {"field": "to_e"}, "y2": {"field": "to_c"}}
        },
        {
          "data": {"values": [{"to_e": 2.279, "to_c": 114400}]},
          "mark": {"type": "point", "shape": "triangle-right", "angle": 9.8, "filled": true, "color": "#111111", "size": 110, "opacity": 1, "xOffset": -5, "yOffset": -1},
          "encoding": {"x": {"field": "to_e", "type": "quantitative"}, "y": {"field": "to_c", "type": "quantitative"}}
        },
        {
          "data": {"values": [{"lo": 2.287, "hi": 2.323, "counts": 114400}]},
          "mark": {"type": "rule", "strokeWidth": 4, "color": "#ff1a1a"},
          "encoding": {"x": {"field": "lo", "type": "quantitative"}, "x2": {"field": "hi"}, "y": {"field": "counts", "type": "quantitative"}}
        },
        {
          "data": {"values": [{"lo": 2.287, "hi": 2.323, "counts": 114400}]},
          "mark": {"type": "point", "shape": "triangle-left", "filled": true, "color": "#ff1a1a", "size": 110, "opacity": 1, "xOffset": 2},
          "encoding": {"x": {"field": "lo", "type": "quantitative"}, "y": {"field": "counts", "type": "quantitative"}}
        },
        {
          "data": {"values": [{"lo": 2.287, "hi": 2.323, "counts": 114400}]},
          "mark": {"type": "point", "shape": "triangle-right", "filled": true, "color": "#ff1a1a", "size": 110, "opacity": 1, "xOffset": -2},
          "encoding": {"x": {"field": "hi", "type": "quantitative"}, "y": {"field": "counts", "type": "quantitative"}}
        }
      ]
    }
    ]},
    {"hconcat": [
    {
      "width": 1228,
      "height": 342,
      "layer": [
        {
          "data": {"name": "spectra"},
          "mark": {"type": "line", "interpolate": "step", "strokeWidth": 1.8, "clip": true},
          "encoding": {
            "x": {"field": "energy", "type": "quantitative", "scale": {"domain": [1.479, 3.466], "nice": false, "zero": false},
              "axis": {"title": "Energy (keV)", "titlePadding": 0, "labelPadding": 1, "labelOverlap": false, "tickCount": 500,
                "values": [1.5,1.54,1.58,1.62,1.66,1.7,1.74,1.78,1.82,1.86,1.9,1.94,1.98,2.02,2.06,2.1,2.14,2.18,2.22,2.26,2.3,2.34,2.38,2.42,2.46,2.5,2.54,2.58,2.62,2.66,2.7,2.74,2.78,2.82,2.86,2.9,2.94,2.98,3.02,3.06,3.1,3.14,3.18,3.22,3.26,3.3,3.34,3.38,3.42,3.46],
                "labelExpr": "abs(datum.value*5-0.5-round(datum.value*5-0.5))<0.01 ? format(datum.value,'.1f') : ''",
                "gridColor": {"condition": {"test": "abs(datum.value*5-0.5-round(datum.value*5-0.5))<0.01", "value": "#f6c8c4"}, "value": "#fbe4df"},
                "tickOpacity": {"condition": {"test": "abs(datum.value*5-0.5-round(datum.value*5-0.5))<0.01", "value": 1}, "value": 0}}},
            "y": {"field": "counts", "type": "quantitative", "scale": {"domain": [0, 37550], "nice": false},
              "axis": {"title": "Counts", "titlePadding": 8, "labelPadding": 2, "labelOverlap": false, "tickCount": 500,
                "values": [0,2000,4000,6000,8000,10000,12000,14000,16000,18000,20000,22000,24000,26000,28000,30000,32000,34000,36000],
                "labelExpr": "datum.value % 10000 === 0 ? replace(format(datum.value, ',d'), ',', '\u2009') : ''",
                "gridColor": {"condition": {"test": "datum.value % 10000 === 0", "value": "#f6c8c4"}, "value": "#fbe4df"},
                "tickOpacity": {"condition": {"test": "datum.value % 10000 === 0", "value": 1}, "value": 0}}},
            "color": {"field": "series", "type": "nominal",
              "scale": {"domain": ["PbS_10keV20nA100s", "Residual[PbS_10keV20nA100s]"], "range": ["#ff5733", "#1e5596"]},
              "legend": {"orient": "none", "legendX": 971, "legendY": 14, "title": null, "symbolType": "square", "symbolSize": 289, "symbolStrokeWidth": 0, "labelFontSize": 15, "labelFont": "Liberation Sans", "labelColor": "#555555", "labelOffset": 4, "rowPadding": 3, "padding": 3, "labelLimit": 400, "fillColor": "rgba(255,255,255,0.4)",
                "encode": {"symbols": {"update": {"fill": {"signal": "datum.value === 'PbS_10keV20nA100s' ? '#ff4a1c' : '#0d4b8e'"}, "fillOpacity": {"value": 1}, "opacity": {"value": 1}}}}}}
          }
        },
        {
          "data": {"name": "lines"},
          "mark": {"type": "rule", "strokeWidth": 1.6, "clip": true},
          "encoding": {
            "x": {"field": "energy", "type": "quantitative"},
            "y": {"field": "h_bot", "type": "quantitative"},
            "y2": {"datum": 0},
            "color": {"condition": {"test": "datum.overlap_bot", "value": "#bbbbbb"}, "value": "#555555"}
          }
        },
        {
          "data": {"name": "lines"},
          "transform": [{"filter": "datum.marker !== 'none'"}],
          "mark": {"type": "point", "filled": false, "fill": "white", "fillOpacity": 1, "strokeWidth": 1.2, "size": 45, "clip": true},
          "encoding": {
            "x": {"field": "energy", "type": "quantitative"},
            "y": {"field": "h_bot", "type": "quantitative"},
            "shape": {"field": "marker", "type": "nominal", "scale": {"domain": ["tri", "circ"], "range": ["triangle-down", "circle"]}, "legend": null},
            "stroke": {"condition": {"test": "datum.overlap_bot", "value": "#aaaaaa"}, "value": "#555555"}
          }
        },
        {
          "data": {"name": "lines"},
          "mark": {"type": "text", "angle": 90, "align": "left", "baseline": "middle", "fontSize": 20, "font": "Liberation Sans"},
          "encoding": {
            "x": {"field": "energy", "type": "quantitative"},
            "y": {"field": "lab_bot", "type": "quantitative"},
            "text": {"field": "name"},
            "color": {"condition": {"test": "datum.overlap_bot", "value": "#a0a0a0"}, "value": "#333333"}
          }
        },
        {
          "data": {"values": [{"note": "Same scale", "energy": 1.4875, "counts": 35800}]},
          "mark": {"type": "text", "align": "left", "baseline": "middle", "fontSize": 15, "color": "#c8c8c8"},
          "encoding": {"x": {"field": "energy", "type": "quantitative"}, "y": {"field": "counts", "type": "quantitative"}, "text": {"field": "note"}}
        }
      ]
    }
    ]}
  ]
}
